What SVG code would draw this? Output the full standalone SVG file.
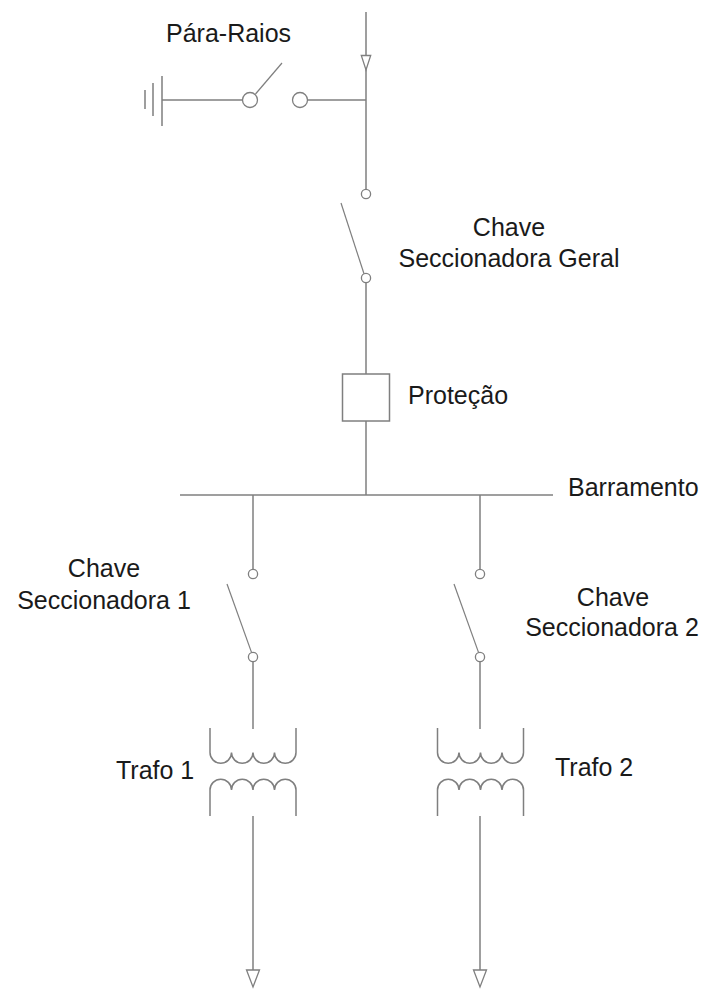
<svg xmlns="http://www.w3.org/2000/svg" width="709" height="990" viewBox="0 0 709 990">
<style>
.w{fill:none;stroke:#7f7f7f;stroke-width:1.5;stroke-linecap:butt}
.c{fill:#fff;stroke:#7f7f7f;stroke-width:1.3}
.b{fill:none;stroke:#7f7f7f;stroke-width:1.2}
.a{fill:#fff;stroke:#7f7f7f;stroke-width:1.3;stroke-linejoin:miter}
.t{font-family:"Liberation Sans",Arial,sans-serif;font-size:25px;fill:#1a1a1a}
</style>
<defs>
<g id="trafo">
<path class="w" d="M210,728 V752.5 A10.75,10.75 0 0 0 231.5,752.5 A10.75,10.75 0 0 0 253,752.5 A10.75,10.75 0 0 0 274.5,752.5 A10.75,10.75 0 0 0 296,752.5 V728"/>
<path class="w" d="M210,816 V790 A10.75,10.75 0 0 1 231.5,790 A10.75,10.75 0 0 1 253,790 A10.75,10.75 0 0 1 274.5,790 A10.75,10.75 0 0 1 296,790 V816"/>
</g>
<g id="sw">
<line class="b" x1="227" y1="584" x2="251.6" y2="652.6"/>
<circle class="c" cx="253" cy="574" r="4.6"/>
<circle class="c" cx="253" cy="657" r="4.6"/>
</g>
</defs>
<g id="connectors">
<path class="w" d="M366,12 V189.5"/>
<path class="w" d="M307.5,100 H366"/>
<path class="w" d="M366,282.5 V374"/>
<path class="w" d="M366,421 V495"/>
<path class="w" d="M253,495 V569.4"/>
<path class="w" d="M253,661.6 V729"/>
<path class="w" d="M253,816 V970"/>
<path class="w" d="M480,495 V569.4"/>
<path class="w" d="M480,661.6 V729"/>
<path class="w" d="M480,816 V970"/>
<polygon class="a" points="361.3,55.5 370.7,55.5 366,70"/>
<polygon class="a" points="246.5,970 259.5,970 253,987"/>
<polygon class="a" points="473.5,970 486.5,970 480,987"/>
</g>
<g id="para-raios">
<path class="w" d="M162,100 H242.5"/>
<path class="w" d="M162,76 V126 M153,83 V116 M145,90 V109"/>
<line class="b" x1="255.5" y1="94" x2="282" y2="63"/>
<circle class="c" cx="250" cy="100" r="7.5"/>
<circle class="c" cx="300" cy="100" r="7.5"/>
<text class="t" x="166" y="42">Pára-Raios</text>
</g>
<g id="chave-geral">
<line class="b" x1="341" y1="203" x2="364" y2="273.8"/>
<circle class="c" cx="366" cy="194" r="4.6"/>
<circle class="c" cx="366" cy="278" r="4.6"/>
<text class="t" x="509" y="236" text-anchor="middle">Chave</text>
<text class="t" x="509" y="267" text-anchor="middle">Seccionadora Geral</text>
</g>
<g id="protecao">
<rect x="342.5" y="374" width="47" height="47" fill="#fff" stroke="#7f7f7f" stroke-width="1.5"/>
<text class="t" x="408" y="404">Proteção</text>
</g>
<g id="barramento">
<path class="w" d="M180,495 H553"/>
<text class="t" x="568" y="496">Barramento</text>
</g>
<g id="chave-1">
<use href="#sw"/>
<text class="t" x="104" y="577" text-anchor="middle">Chave</text>
<text class="t" x="104" y="609" text-anchor="middle">Seccionadora 1</text>
</g>
<g id="chave-2">
<use href="#sw" transform="translate(227,0)"/>
<text class="t" x="613" y="606" text-anchor="middle">Chave</text>
<text class="t" x="612" y="636" text-anchor="middle">Seccionadora 2</text>
</g>
<g id="trafo-1">
<use href="#trafo"/>
<text class="t" x="116" y="779">Trafo 1</text>
</g>
<g id="trafo-2">
<use href="#trafo" transform="translate(227.5,0)"/>
<text class="t" x="555" y="776">Trafo 2</text>
</g>
</svg>
